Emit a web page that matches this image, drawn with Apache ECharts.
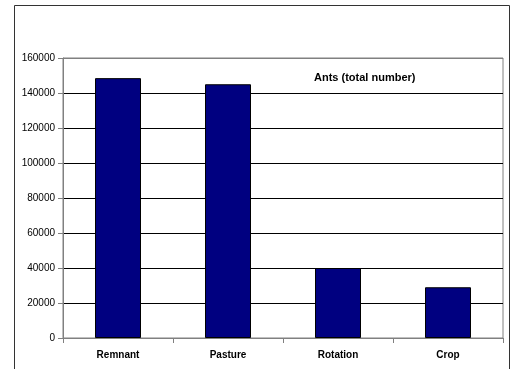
<!DOCTYPE html>
<html>
<head>
<meta charset="utf-8">
<script src="https://cdn.jsdelivr.net/npm/echarts@6/dist/echarts.min.js"></script>
<style>
  html, body { margin: 0; padding: 0; background: #fff; }
  #main { width: 516px; height: 369px; }
</style>
</head>
<body>
<div id="main"></div>
<script>
  var categories = ['Remnant', 'Pasture', 'Rotation', 'Crop'];
  var antCounts = [148500, 145000, 40000, 29000];
  var chartTitle = 'Ants (total number)';

  var chart = echarts.init(document.getElementById('main'));
  chart.setOption({
    animation: false,
    backgroundColor: '#fff',
    title: {
      text: chartTitle,
      left: 309,
      top: 67,
      textStyle: { fontFamily: 'Liberation Sans', fontSize: 11, fontWeight: 'bold', color: '#000' }
    },
    graphic: [{
      type: 'rect',
      shape: { x: 14.5, y: 5.5, width: 495, height: 400 },
      style: { fill: null, stroke: '#333', lineWidth: 1 },
      silent: true
    }],
    grid: {
      left: 63, right: 13, top: 58, bottom: 31,
      show: true, borderColor: '#808080', borderWidth: 1
    },
    xAxis: {
      type: 'category',
      data: categories,
      axisLine: { lineStyle: { color: '#808080' } },
      axisTick: { show: true, length: 5, lineStyle: { color: '#808080' } },
      axisLabel: { fontFamily: 'Liberation Sans', fontSize: 10, fontWeight: 'bold', color: '#000', margin: 12 }
    },
    yAxis: {
      type: 'value',
      min: 0, max: 160000, interval: 20000,
      axisLine: { show: true, lineStyle: { color: '#808080' } },
      axisTick: { show: true, length: 5, lineStyle: { color: '#808080' } },
      axisLabel: {
        fontFamily: 'Liberation Sans', fontSize: 10, color: '#000', margin: 8,
        formatter: function (v) { return String(v); }
      },
      splitLine: { show: true, lineStyle: { color: ['#000', '#000', '#000', '#000', '#000', '#000', '#000', '#000', '#808080'], width: 1 } }
    },
    series: [{
      type: 'bar',
      data: antCounts,
      barWidth: 46,
      itemStyle: { color: '#000080', borderColor: '#000', borderWidth: 1 }
    }]
  });
</script>
</body>
</html>
